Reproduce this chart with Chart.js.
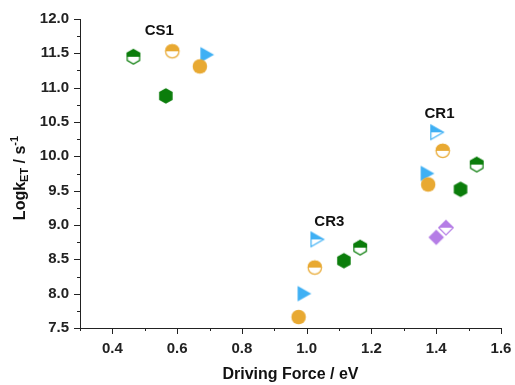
<!DOCTYPE html>
<html>
<head>
<meta charset="utf-8">
<script src="https://cdn.jsdelivr.net/npm/chart.js@4.4.1/dist/chart.umd.min.js"></script>
<style>
  html, body { margin: 0; padding: 0; background: #fff; }
  #wrap { width: 515px; height: 385px; position: relative; }
</style>
</head>
<body>
<div id="wrap"><canvas id="chart"></canvas></div>
<script>
// Driving force (eV) and log k_ET values
const greenFullX = [0.565, 1.115, 1.475];
const greenFullY = [10.88, 8.48, 9.52];
const greenHalfX = [0.465, 1.165, 1.525];
const greenHalfY = [11.45, 8.67, 9.88];
const orangeFullX = [0.67, 0.975, 1.375];
const orangeFullY = [11.31, 7.66, 9.59];
const orangeHalfX = [0.585, 1.025, 1.42];
const orangeHalfY = [11.53, 8.38, 10.08];
const blueFullX = [0.69, 0.99, 1.37];
const blueFullY = [11.48, 8.0, 9.75];
const blueHalfX = [1.03, 1.40];
const blueHalfY = [8.79, 10.35];
const purpleFullX = [1.40];
const purpleFullY = [8.82];
const purpleHalfX = [1.43];
const purpleHalfY = [8.96];

const groupLabels = ['CS1', 'CR3', 'CR1'];
const groupLabelX = [0.545, 1.07, 1.41];
const groupLabelY = [11.83, 9.05, 10.62];

const xTickLabels = ['0.4', '0.6', '0.8', '1.0', '1.2', '1.4', '1.6'];
const yTickLabels = ['7.5', '8.0', '8.5', '9.0', '9.5', '10.0', '10.5', '11.0', '11.5', '12.0'];

const GREEN = '#0b7d0b';
const ORANGE = '#e8a932';
const BLUE = '#3fb0f4';
const PURPLE = '#b57de6';
const FONT = '"Liberation Sans", Arial, sans-serif';

function shapePath(ctx, shape, c, r) {
  ctx.beginPath();
  if (shape === 'hex') {
    for (let i = 0; i < 6; i++) {
      const a = -Math.PI / 2 + i * Math.PI / 3;
      const px = c + r * Math.cos(a), py = c + r * Math.sin(a);
      i ? ctx.lineTo(px, py) : ctx.moveTo(px, py);
    }
  } else if (shape === 'circle') {
    ctx.arc(c, c, r * 0.93, 0, Math.PI * 2);
  } else if (shape === 'tri') {
    ctx.moveTo(c - r * 0.75, c - r);
    ctx.lineTo(c + r, c);
    ctx.lineTo(c - r * 0.75, c + r);
  } else if (shape === 'diamond') {
    ctx.moveTo(c, c - r);
    ctx.lineTo(c + r, c);
    ctx.lineTo(c, c + r);
    ctx.lineTo(c - r, c);
  }
  ctx.closePath();
}

function makeMarker(shape, color, half) {
  const size = 20;
  const cv = document.createElement('canvas');
  cv.width = size; cv.height = size;
  const ctx = cv.getContext('2d');
  const c = size / 2, r = 7.8;
  if (!half) {
    shapePath(ctx, shape, c, r);
    ctx.fillStyle = color;
    ctx.fill();
    return cv;
  }
  shapePath(ctx, shape, c, r);
  ctx.fillStyle = '#fff';
  ctx.fill();
  ctx.save();
  ctx.beginPath();
  ctx.rect(0, 0, size, c);
  ctx.clip();
  shapePath(ctx, shape, c, r);
  ctx.fillStyle = color;
  ctx.fill();
  ctx.restore();
  shapePath(ctx, shape, c, r - 0.6);
  ctx.strokeStyle = color;
  ctx.lineWidth = 1.2;
  ctx.stroke();
  return cv;
}

function pts(xs, ys) {
  return xs.map((x, i) => ({ x: x, y: ys[i] }));
}

function series(xs, ys, shape, color, half) {
  return {
    data: pts(xs, ys),
    pointStyle: makeMarker(shape, color, half),
    backgroundColor: color,
    borderColor: color,
    showLine: false
  };
}

// outward major and minor ticks, axis titles, group labels
const decor = {
  id: 'decor',
  afterDraw(chart) {
    const ctx = chart.ctx;
    const xs = chart.scales.x, ys = chart.scales.y;
    const a = chart.chartArea;
    ctx.save();
    ctx.strokeStyle = '#222';
    ctx.lineWidth = 1;
    ctx.beginPath();
    for (let i = 0; i <= 13; i++) {
      const v = 0.3 + i * 0.1;
      const px = Math.round(xs.getPixelForValue(v)) + 0.5;
      const major = i % 2 === 1;
      ctx.moveTo(px, a.bottom);
      ctx.lineTo(px, a.bottom + (major ? 6 : 3));
    }
    for (let i = 0; i <= 18; i++) {
      const v = 7.5 + i * 0.25;
      const py = Math.round(ys.getPixelForValue(v)) + 0.5;
      const major = i % 2 === 0;
      ctx.moveTo(a.left, py);
      ctx.lineTo(a.left - (major ? 6 : 3), py);
    }
    ctx.stroke();

    ctx.fillStyle = '#111';
    ctx.font = 'bold 15px ' + FONT;
    ctx.textAlign = 'center';
    ctx.textBaseline = 'middle';
    groupLabels.forEach((t, i) => {
      ctx.fillText(t, xs.getPixelForValue(groupLabelX[i]), ys.getPixelForValue(groupLabelY[i]));
    });

    ctx.font = 'bold 16px ' + FONT;
    ctx.fillText('Driving Force / eV', (a.left + a.right) / 2, 375);

    // y title with subscript and superscript
    ctx.translate(21, 178);
    ctx.rotate(-Math.PI / 2);
    const parts = [
      { t: 'Logk', f: 'bold 16px ', dy: 0 },
      { t: 'ET', f: 'bold 11px ', dy: 4 },
      { t: ' / s', f: 'bold 16px ', dy: 0 },
      { t: '-1', f: 'bold 11px ', dy: -6 }
    ];
    let w = 0;
    parts.forEach(p => { ctx.font = p.f + FONT; w += ctx.measureText(p.t).width; });
    let cx = -w / 2;
    ctx.textAlign = 'left';
    parts.forEach(p => {
      ctx.font = p.f + FONT;
      ctx.fillText(p.t, cx, p.dy);
      cx += ctx.measureText(p.t).width;
    });
    ctx.restore();
  }
};

new Chart(document.getElementById('chart'), {
  type: 'scatter',
  data: {
    datasets: [
      series(greenFullX, greenFullY, 'hex', GREEN, false),
      series(greenHalfX, greenHalfY, 'hex', GREEN, true),
      series(orangeFullX, orangeFullY, 'circle', ORANGE, false),
      series(orangeHalfX, orangeHalfY, 'circle', ORANGE, true),
      series(blueFullX, blueFullY, 'tri', BLUE, false),
      series(blueHalfX, blueHalfY, 'tri', BLUE, true),
      series(purpleFullX, purpleFullY, 'diamond', PURPLE, false),
      series(purpleHalfX, purpleHalfY, 'diamond', PURPLE, true)
    ]
  },
  options: {
    responsive: true,
    maintainAspectRatio: false,
    animation: false,
    layout: { padding: { left: 0, right: 14, top: 19, bottom: 0 } },
    plugins: {
      legend: { display: false },
      tooltip: { enabled: false }
    },
    scales: {
      x: {
        type: 'linear',
        min: 0.3,
        max: 1.6,
        afterFit: s => { s.height = 57; s.paddingRight = 0; s.paddingLeft = 0; },
        afterBuildTicks: s => {
          s.ticks = xTickLabels.map(t => ({ value: parseFloat(t) }));
        },
        grid: { display: false },
        border: { display: true, color: '#222', width: 1 },
        ticks: {
          padding: 4,
          color: '#222',
          font: { family: FONT, size: 15, weight: 'bold' },
          maxRotation: 0,
          callback: (v, i) => xTickLabels[i]
        }
      },
      y: {
        type: 'linear',
        min: 7.5,
        max: 12.0,
        afterFit: s => { s.width = 80; s.paddingTop = 0; s.paddingBottom = 0; },
        afterBuildTicks: s => {
          s.ticks = yTickLabels.map(t => ({ value: parseFloat(t) }));
        },
        grid: { display: false },
        border: { display: true, color: '#222', width: 1 },
        ticks: {
          padding: 3,
          color: '#222',
          font: { family: FONT, size: 15, weight: 'bold' },
          callback: (v, i) => yTickLabels[i]
        }
      }
    }
  },
  plugins: [decor]
});
</script>
</body>
</html>
